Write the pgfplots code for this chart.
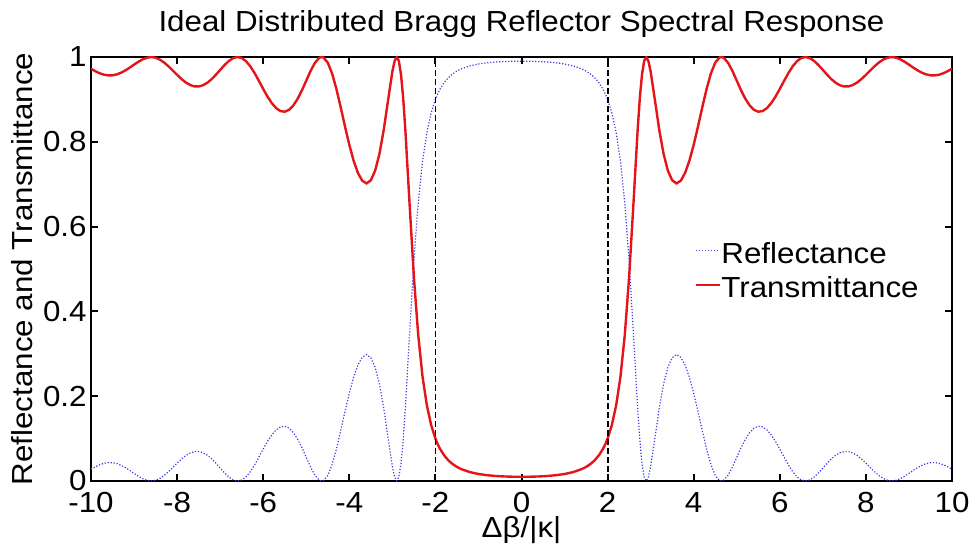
\documentclass[border=0pt]{standalone}
\usepackage{pgfplots}
\pgfplotsset{compat=1.18}
\usepackage{pgfplotstable}
\usepackage{fontspec}
\setmainfont[FakeStretch=1.08]{Liberation Sans}
\definecolor{mblue}{RGB}{60,60,225}
\definecolor{mred}{RGB}{228,20,25}
\pgfplotstableread{
x R T
-10 0.0276 0.9724
-9.9 0.0335 0.9665
-9.8 0.0383 0.9617
-9.7 0.0417 0.9583
-9.6 0.0434 0.9566
-9.5 0.0432 0.9568
-9.4 0.0410 0.9590
-9.3 0.0370 0.9630
-9.2 0.0315 0.9685
-9.1 0.0250 0.9750
-9.0 0.0180 0.9820
-8.9 0.0113 0.9887
-8.8 0.0056 0.9944
-8.7 0.0017 0.9983
-8.6 0.0000 1.0000
-8.5 0.0018 0.9982
-8.4 0.0062 0.9938
-8.3 0.0131 0.9869
-8.2 0.0219 0.9781
-8.1 0.0319 0.9681
-8.0 0.0421 0.9579
-7.9 0.0517 0.9483
-7.8 0.0599 0.9401
-7.7 0.0659 0.9341
-7.6 0.0693 0.9307
-7.5 0.0695 0.9305
-7.4 0.0668 0.9332
-7.3 0.0609 0.9391
-7.2 0.0525 0.9475
-7.1 0.0420 0.9580
-7.0 0.0305 0.9695
-6.9 0.0193 0.9807
-6.8 0.0095 0.9905
-6.7 0.0027 0.9973
-6.6 0.0000 1.0000
-6.5 0.0023 0.9977
-6.4 0.0097 0.9903
-6.3 0.0219 0.9781
-6.2 0.0379 0.9621
-6.1 0.0563 0.9437
-6.0 0.0753 0.9247
-5.9 0.0934 0.9066
-5.8 0.1089 0.8911
-5.7 0.1206 0.8794
-5.6 0.1275 0.8725
-5.5 0.1290 0.8710
-5.4 0.1246 0.8754
-5.3 0.1143 0.8857
-5.2 0.0986 0.9014
-5.1 0.0785 0.9215
-5.0 0.0558 0.9442
-4.9 0.0331 0.9669
-4.8 0.0139 0.9861
-4.7 0.0021 0.9979
-4.65 0.0000 1.0000
-4.6 0.0011 0.9989
-4.5 0.0133 0.9867
-4.4 0.0388 0.9612
-4.3 0.0751 0.9249
-4.2 0.1184 0.8816
-4.1 0.1639 0.8361
-4.0 0.2071 0.7929
-3.9 0.2445 0.7555
-3.8 0.2734 0.7266
-3.7 0.2918 0.7082
-3.6 0.2981 0.7019
-3.5 0.2908 0.7092
-3.4 0.2681 0.7319
-3.3 0.2285 0.7715
-3.2 0.1719 0.8281
-3.1 0.1023 0.8977
-3.0 0.0344 0.9656
-2.95 0.0104 0.9896
-2.9 0.0001 0.9999
-2.85 0.0088 0.9912
-2.8 0.0403 0.9597
-2.75 0.0948 0.9052
-2.7 0.1687 0.8313
-2.6 0.3465 0.6535
-2.5 0.5184 0.4816
-2.4 0.6547 0.3453
-2.3 0.7529 0.2471
-2.2 0.8208 0.1792
-2.1 0.8676 0.1324
-2.0 0.9000 0.1000
-1.95 0.9124 0.0876
-1.9 0.9229 0.0771
-1.8 0.9392 0.0608
-1.7 0.9512 0.0488
-1.6 0.9601 0.0399
-1.5 0.9668 0.0332
-1.4 0.9719 0.0281
-1.2 0.9790 0.0210
-1.0 0.9835 0.0165
-0.8 0.9863 0.0137
-0.6 0.9882 0.0118
-0.4 0.9893 0.0107
-0.2 0.9899 0.0101
0 0.9901 0.0099
0.2 0.9899 0.0101
0.4 0.9893 0.0107
0.6 0.9882 0.0118
0.8 0.9863 0.0137
1.0 0.9835 0.0165
1.2 0.9790 0.0210
1.4 0.9719 0.0281
1.5 0.9668 0.0332
1.6 0.9601 0.0399
1.7 0.9512 0.0488
1.8 0.9392 0.0608
1.9 0.9229 0.0771
1.95 0.9124 0.0876
2.0 0.9000 0.1000
2.1 0.8676 0.1324
2.2 0.8208 0.1792
2.3 0.7529 0.2471
2.4 0.6547 0.3453
2.5 0.5184 0.4816
2.6 0.3465 0.6535
2.7 0.1687 0.8313
2.75 0.0948 0.9052
2.8 0.0403 0.9597
2.85 0.0088 0.9912
2.9 0.0001 0.9999
2.95 0.0104 0.9896
3.0 0.0344 0.9656
3.1 0.1023 0.8977
3.2 0.1719 0.8281
3.3 0.2285 0.7715
3.4 0.2681 0.7319
3.5 0.2908 0.7092
3.6 0.2981 0.7019
3.7 0.2918 0.7082
3.8 0.2734 0.7266
3.9 0.2445 0.7555
4.0 0.2071 0.7929
4.1 0.1639 0.8361
4.2 0.1184 0.8816
4.3 0.0751 0.9249
4.4 0.0388 0.9612
4.5 0.0133 0.9867
4.6 0.0011 0.9989
4.65 0.0000 1.0000
4.7 0.0021 0.9979
4.8 0.0139 0.9861
4.9 0.0331 0.9669
5.0 0.0558 0.9442
5.1 0.0785 0.9215
5.2 0.0986 0.9014
5.3 0.1143 0.8857
5.4 0.1246 0.8754
5.5 0.1290 0.8710
5.6 0.1275 0.8725
5.7 0.1206 0.8794
5.8 0.1089 0.8911
5.9 0.0934 0.9066
6.0 0.0753 0.9247
6.1 0.0563 0.9437
6.2 0.0379 0.9621
6.3 0.0219 0.9781
6.4 0.0097 0.9903
6.5 0.0023 0.9977
6.6 0.0000 1.0000
6.7 0.0027 0.9973
6.8 0.0095 0.9905
6.9 0.0193 0.9807
7.0 0.0305 0.9695
7.1 0.0420 0.9580
7.2 0.0525 0.9475
7.3 0.0609 0.9391
7.4 0.0668 0.9332
7.5 0.0695 0.9305
7.6 0.0693 0.9307
7.7 0.0659 0.9341
7.8 0.0599 0.9401
7.9 0.0517 0.9483
8.0 0.0421 0.9579
8.1 0.0319 0.9681
8.2 0.0219 0.9781
8.3 0.0131 0.9869
8.4 0.0062 0.9938
8.5 0.0018 0.9982
8.6 0.0000 1.0000
8.7 0.0017 0.9983
8.8 0.0056 0.9944
8.9 0.0113 0.9887
9.0 0.0180 0.9820
9.1 0.0250 0.9750
9.2 0.0315 0.9685
9.3 0.0370 0.9630
9.4 0.0410 0.9590
9.5 0.0432 0.9568
9.6 0.0434 0.9566
9.7 0.0417 0.9583
9.8 0.0383 0.9617
9.9 0.0335 0.9665
10 0.0276 0.9724
}\dbr
\begin{document}
\begin{tikzpicture}
\begin{axis}[name=ax, scale only axis, width=430.5pt, height=212pt,
  xmin=-10, xmax=10, ymin=0, ymax=1,
  xtick={-10,-8,-6,-4,-2,0,2,4,6,8,10},
  ytick={0,0.2,0.4,0.6,0.8,1},
  font=\fontsize{14.5}{17}\selectfont,
  /pgf/number format/assume math mode=true,
  tick align=inside, major tick length=3.5pt,
  axis line style={line width=1pt},
  every tick/.style={black, line width=1pt},
  xticklabel style={anchor=base, yshift=-15.5pt, inner sep=0pt},
  yticklabel style={anchor=east, xshift=-2pt, inner sep=0pt},
  every axis title shift=0pt,
  title={Ideal Distributed Bragg Reflector Spectral Response},
  title style={at={(axis description cs:0.5,1.059)}, anchor=base, inner sep=0pt},
  xlabel={Δβ/|κ|},
  xlabel style={at={(axis description cs:0.5,-0.1344)}, anchor=base, inner sep=0pt},
  ylabel={Reflectance and Transmittance},
  ylabel style={at={(axis description cs:-0.0674,0.5)}, anchor=base, inner sep=0pt},
  legend style={draw=none, fill=none, at={(axis cs:4.03,0.562)}, anchor=north west,
    inner sep=0pt, outer sep=0pt, row sep=3pt,
    nodes={inner sep=0pt, text height=10.5pt, text depth=3.5pt},
    font=\fontsize{14.5}{17}\selectfont},
  legend cell align=left,
  /tikz/every even column/.append style={column sep=1.5pt},
  legend image code/.code={\draw[#1] (0pt,0.3em) -- (12pt,0.3em);},
]
\addplot[mblue, line width=0.6pt, dash pattern=on 0.6pt off 0.9pt] table[x=x, y=R] {\dbr};
\addlegendentry{Reflectance}
\addplot[mred, line width=1.2pt] table[x=x, y=T] {\dbr};
\addlegendentry{Transmittance}
\addplot[black, line width=0.9pt, dash pattern=on 3pt off 1.5pt, forget plot] coordinates {(-2,0) (-2,1)};
\addplot[black, line width=0.9pt, dash pattern=on 3pt off 1.5pt, forget plot] coordinates {(2,0) (2,1)};
\end{axis}
\pgfresetboundingbox
\path (ax.south west) ++(-45.5pt,-35.5pt) rectangle ++(487pt,276pt);
\end{tikzpicture}
\end{document}
